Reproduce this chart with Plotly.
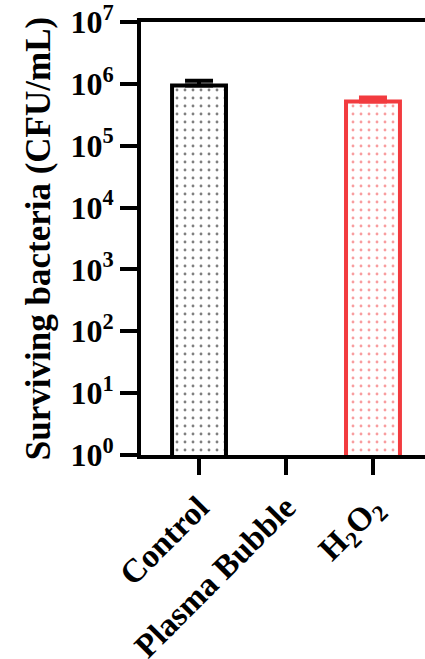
import plotly.graph_objects as go

# Surviving bacteria per treatment (CFU/mL), mean and upper error
categories = ["Control", "Plasma Bubble", "H<sub>2</sub>O<sub>2</sub>"]
means = [9.4e5, 0, 5.2e5]
errors_up = [1.8e5, 0, 0.8e5]
colors = ["#000000", "#000000", "#F23B3F"]

tick_vals = [1, 10, 100, 1e3, 1e4, 1e5, 1e6, 1e7]
tick_text = ["10<sup>%d</sup>" % i for i in range(8)]

FONT = "Liberation Serif"

fig = go.Figure()
for i, (cat, m, e, c) in enumerate(zip(categories, means, errors_up, colors)):
    if not m:
        continue
    fig.add_trace(go.Bar(
        x=[i], y=[m], width=0.62,
        marker=dict(
            color="white",
            line=dict(color=c, width=4),
            pattern=dict(shape=".", fgcolor=c, bgcolor="white", size=8, solidity=0.1),
        ),
        error_y=dict(type="data", symmetric=False, array=[e], arrayminus=[0],
                     color=c, thickness=4, width=14),
        showlegend=False,
    ))

fig.update_layout(
    width=425, height=659,
    margin=dict(l=141, r=0, t=22, b=204),
    plot_bgcolor="white", paper_bgcolor="white",
    barmode="overlay",
    font=dict(family=FONT, color="black"),
)
fig.update_xaxes(
    range=[-0.667, 2.598], automargin=False,
    tickvals=list(range(len(categories))), ticktext=[f"<b>{c}</b>" for c in categories],
    tickangle=-45, tickfont=dict(size=33, family=FONT),
    ticks="outside", ticklen=16, tickwidth=4, tickcolor="black",
    showline=True, linecolor="black", linewidth=4, mirror=True,
    showgrid=False, zeroline=False,
)
fig.update_yaxes(
    type="log", range=[0, 7], automargin=False, ticklabeloverflow="allow",
    tickvals=tick_vals, ticktext=[f"<b>{t}</b>" for t in tick_text],
    tickfont=dict(size=32, family=FONT),
    ticks="outside", ticklen=17, tickwidth=4, tickcolor="black",
    showline=True, linecolor="black", linewidth=4,
    showgrid=False, zeroline=False,
    title=dict(text="<b>Surviving bacteria (CFU/mL)</b>", font=dict(size=35, family=FONT), standoff=10),
)

fig.write_html("out.html")
